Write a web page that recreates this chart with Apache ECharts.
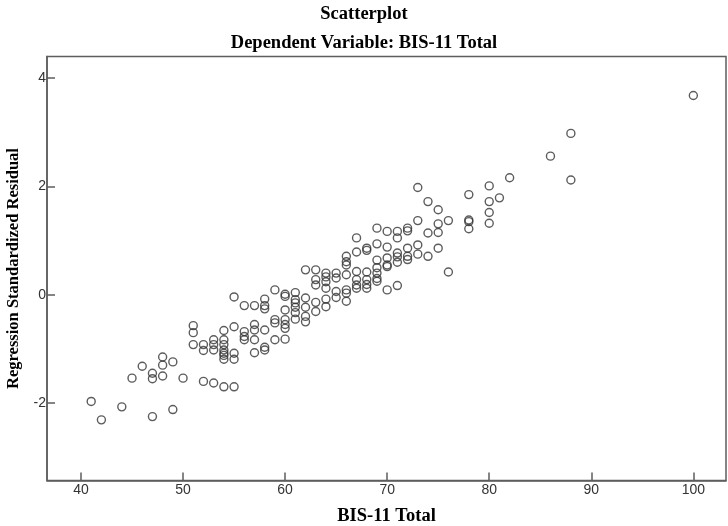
<!DOCTYPE html>
<html>
<head>
<meta charset="utf-8">
<script src="https://cdn.jsdelivr.net/npm/echarts@6/dist/echarts.min.js"></script>
<style>html,body{margin:0;padding:0;background:#fff;}#c{width:728px;height:526px;}</style>
</head>
<body>
<div id="c"></div>
<script>
// BIS-11 Total (x) and Regression Standardized Residual (y), grouped by x value
const xValues = [41, 42, 44, 45, 46, 47, 48, 49, 50, 51, 52, 53, 54, 55, 56, 57, 58, 59, 60, 61, 62, 63, 64, 65, 66, 67, 68, 69, 70, 71, 72, 73, 74, 75, 76, 78, 80, 81, 82, 86, 88, 100];
const residuals = [
  [-1.97],
  [-2.31],
  [-2.07],
  [-1.54],
  [-1.32],
  [-1.45, -1.55, -2.25],
  [-1.15, -1.30, -1.50],
  [-1.24, -2.12],
  [-1.54],
  [-0.57, -0.70, -0.92],
  [-0.92, -1.03, -1.60],
  [-0.83, -0.92, -1.02, -1.63],
  [-0.66, -0.83, -0.92, -1.02, -1.08, -1.12, -1.19, -1.70],
  [-0.04, -0.59, -1.08, -1.19, -1.70],
  [-0.20, -0.68, -0.77, -0.83],
  [-0.20, -0.55, -0.65, -0.83, -1.07],
  [-0.08, -0.20, -0.26, -0.65, -0.97, -1.02],
  [0.09, -0.46, -0.52, -0.83],
  [0.01, -0.03, -0.28, -0.46, -0.55, -0.62, -0.82],
  [0.04, -0.09, -0.15, -0.23, -0.33, -0.45],
  [0.46, -0.06, -0.23, -0.40, -0.50],
  [0.46, 0.28, 0.18, -0.14, -0.31],
  [0.40, 0.33, 0.24, 0.12, -0.08, -0.22],
  [0.40, 0.31, 0.06, -0.05],
  [0.71, 0.61, 0.55, 0.37, 0.09, 0.03, -0.12],
  [1.05, 0.79, 0.43, 0.28, 0.18, 0.12],
  [0.86, 0.82, 0.42, 0.28, 0.19, 0.12],
  [1.23, 0.94, 0.64, 0.50, 0.40, 0.30, 0.25],
  [1.17, 0.88, 0.68, 0.55, 0.52, 0.09],
  [1.17, 1.05, 0.77, 0.70, 0.60, 0.17],
  [1.23, 1.18, 0.86, 0.71, 0.65],
  [1.98, 1.37, 0.92, 0.75],
  [1.72, 1.14, 0.71],
  [1.57, 1.31, 1.15, 0.86],
  [1.37, 0.42],
  [1.85, 1.38, 1.35, 1.22],
  [2.01, 1.72, 1.52, 1.32],
  [1.79],
  [2.16],
  [2.56],
  [2.98, 2.12],
  [3.68]
];
const xTicks = [40, 50, 60, 70, 80, 90, 100];
const yTicks = [-2, 0, 2, 4];

const points = [];
xValues.forEach((x, i) => residuals[i].forEach(r => points.push([x, r])));

const axisColor = '#5e5e5e';
const labelStyle = { color: '#333', fontFamily: '"Liberation Sans Narrow", "Arial Narrow", "Liberation Sans", sans-serif', fontSize: 14 };
const serif = '"Liberation Serif", "Times New Roman", serif';
const titleFont = { fontFamily: serif, fontWeight: 'bold', fontSize: 18.5, color: '#000' };
const xNameFont = { fontFamily: serif, fontWeight: 'bold', fontSize: 18.5, color: '#000' };
const yNameFont = { fontFamily: serif, fontWeight: 'bold', fontSize: 16.5, color: '#000' };

const chart = echarts.init(document.getElementById('c'), null, { renderer: 'canvas' });
chart.setOption({
  animation: false,
  backgroundColor: '#fff',
  title: [
    { text: 'Scatterplot', left: 'center', top: 0, textStyle: titleFont },
    { text: 'Dependent Variable: BIS-11 Total', left: 'center', top: 29, textStyle: titleFont }
  ],
  grid: { left: 47, right: 2, top: 56.5, bottom: 45.5, containLabel: false, outerBoundsMode: 'none', show: true, borderColor: axisColor, borderWidth: 1.5, backgroundColor: 'transparent' },
  xAxis: {
    type: 'value', min: 36.67, max: 103.2,
    name: 'BIS-11 Total', nameLocation: 'middle', nameGap: 26, nameTextStyle: xNameFont,
    axisLine: { show: true, onZero: false, lineStyle: { color: axisColor, width: 1.5 } },
    axisTick: { show: true, inside: true, length: 8, customValues: xTicks, lineStyle: { color: axisColor, width: 1.5 } },
    axisLabel: { customValues: xTicks, margin: 3, ...labelStyle },
    splitLine: { show: false }
  },
  yAxis: {
    type: 'value', min: -3.43, max: 4.40,
    name: 'Regression Standardized Residual', nameLocation: 'middle', nameGap: 25, nameRotate: 90, nameTextStyle: yNameFont,
    axisLine: { show: true, onZero: false, lineStyle: { color: axisColor, width: 1.5 } },
    axisTick: { show: true, inside: true, length: 8, customValues: yTicks, lineStyle: { color: axisColor, width: 1.5 } },
    axisLabel: { customValues: yTicks, margin: 1, ...labelStyle },
    splitLine: { show: false }
  },
  series: [{
    type: 'scatter',
    data: points,
    symbol: 'circle',
    symbolSize: 8,
    itemStyle: { color: 'rgba(0,0,0,0)', borderColor: '#333', borderWidth: 1.4 }
  }]
});
</script>
</body>
</html>
